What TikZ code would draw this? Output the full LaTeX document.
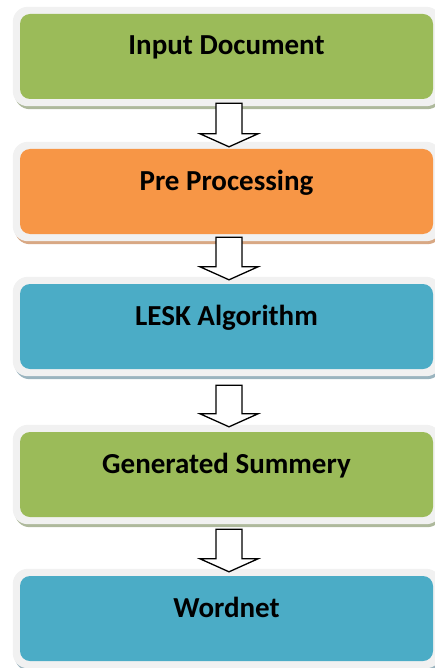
\documentclass[tikz,border=0pt]{standalone}
\usepackage{fontspec}
\setmainfont{Carlito}
\usetikzlibrary{calc,backgrounds}
\definecolor{cgreen}{HTML}{9BBB59}
\definecolor{corange}{HTML}{F79646}
\definecolor{cblue}{HTML}{4BACC6}
\definecolor{sgreen}{HTML}{AEB99C}
\definecolor{sorange}{HTML}{D8A884}
\definecolor{sblue}{HTML}{9AB4BF}
\definecolor{rimgray}{HTML}{F1F1F1}
\tikzset{
  stagebox/.style={minimum width=413pt, minimum height=85pt, inner sep=0pt, rounded corners=10pt},
  stagetext/.style={anchor=base, inner sep=0pt, font=\fontsize{29}{34}\selectfont\bfseries},
  rim/.style={fill=rimgray, rounded corners=15pt},
  blockarrow/.style={draw=black, fill=white, line width=1.3pt, line join=miter},
}
\newcommand{\stage}[5]{%
  % #1 name, #2 top y, #3 fill, #4 shadow, #5 text
  \node[stagebox, fill=#3] (#1) at (226.5,#2+42.5) {};
  \node[stagetext] (#1t) at (226.5,#2+41) {#5};
  \begin{scope}[on background layer]
    \fill[#4, rounded corners=15pt] ([shift={(-5,-3)}]#1.north west) rectangle ([shift={(9,10)}]#1.south east);
    \fill[rim] ([shift={(-7,-7)}]#1.north west) rectangle ([shift={(8,7)}]#1.south east);
  \end{scope}
}
\newcommand{\flowarrow}[3]{%
  % #1 name, #2 shaft top coordinate name, #3 tip coordinate name
  \draw[blockarrow] ($(#2)+(-13,0)$) -- ($(#2)+(13,0)$) -- ($(#3)+(13,-13)$) -- ($(#3)+(29,-13)$) -- (#3) -- ($(#3)+(-29,-13)$) -- ($(#3)+(-13,-13)$) -- cycle;
}
\begin{document}
\begin{tikzpicture}[x=1pt,y=-1pt]
\useasboundingbox (0,0) rectangle (434,668);
\stage{b1}{14}{cgreen}{sgreen}{Input Document}
\stage{b2}{149}{corange}{sorange}{Pre Processing}
\stage{b3}{284}{cblue}{sblue}{LESK Algorithm}
\stage{b4}{432}{cgreen}{sgreen}{Generated Summery}
\stage{b5}{576}{cblue}{sblue}{Wordnet}
\coordinate (a1s) at ($(b1.south)+(2.5,4)$);
\coordinate (a1e) at ($(b2.north)+(2.5,-2)$);
\coordinate (a2s) at ($(b2.south)+(2.5,3)$);
\coordinate (a2e) at ($(b3.north)+(2.5,-4)$);
\coordinate (a3s) at ($(b3.south)+(2.5,16)$);
\coordinate (a3e) at ($(b4.north)+(2.5,-5)$);
\coordinate (a4s) at ($(b4.south)+(2.5,12)$);
\coordinate (a4e) at ($(b5.north)+(2.5,-4)$);
\flowarrow{ar1}{a1s}{a1e}
\flowarrow{ar2}{a2s}{a2e}
\flowarrow{ar3}{a3s}{a3e}
\flowarrow{ar4}{a4s}{a4e}
\end{tikzpicture}
\end{document}
